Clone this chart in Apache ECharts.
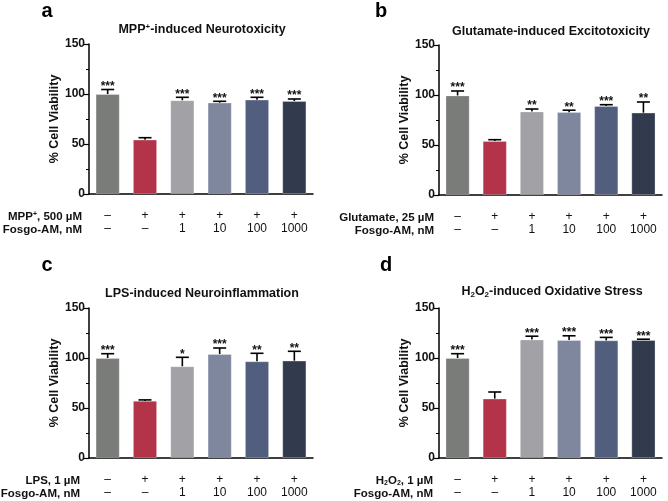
<!DOCTYPE html>
<html><head><meta charset="utf-8">
<script src="https://cdn.jsdelivr.net/npm/echarts@6/dist/echarts.min.js"></script>
<style>html,body{margin:0;padding:0;background:#fff}#c{width:668px;height:501px}</style>
</head><body><div id="c"></div>
<script>
const treatRow = ['–','+','+','+','+','+'];
const doseRow = ['–','–','1','10','100','1000'];
const barColors = ['#7a7c79','#b33348','#a2a2a6','#7f879e','#525e7d','#323a4d'];
const yTicks = [0, 50, 100, 150];

const meansA = [100, 54.3, 93.7, 91.3, 94.3, 93];
const sdA = [4.5, 2, 3, 1.4, 2.4, 2];
const sigA = ['***','','***','***','***','***'];

const meansB = [99.5, 54, 83.5, 82.8, 89, 82.3];
const sdB = [4.5, 1.3, 2.5, 2, 1.3, 10.7];
const sigB = ['***','','**','**','***','**'];

const meansC = [100, 57.1, 91.7, 104, 96.7, 97.3];
const sdC = [4.3, 1, 9, 6, 8, 9.4];
const sigC = ['***','','*','***','**','**'];

const meansD = [100, 59.4, 118.5, 117.9, 117.6, 117.9];
const sdD = [4.3, 6.6, 3.3, 4.3, 3, 0.9];
const sigD = ['***','','***','***','***','***'];

const FONT = '"Liberation Sans", Arial, sans-serif';
const panels = [
  {means: meansA, sd: sdA, sig: sigA, grid: {left:89, top:44, width:224, height:150}, letter:'a', lx:47, ly:11,
   title:'{b|MPP}{sup|+}{b|-induced Neurotoxicity}', tx:202, ty:27, row1:'{n|MPP}{sup|+}{n|, 500 µM}', rx:82},
  {means: meansB, sd: sdB, sig: sigB, grid: {left:439, top:45, width:223, height:150}, letter:'b', lx:381, ly:11,
   title:'{b|Glutamate-induced Excitotoxicity}', tx:551, ty:29, row1:'{n|Glutamate, 25 µM}', rx:434},
  {means: meansC, sd: sdC, sig: sigC, grid: {left:89, top:308, width:224, height:150}, letter:'c', lx:47, ly:265,
   title:'{b|LPS-induced Neuroinflammation}', tx:202, ty:291, row1:'{n|LPS, 1 µM}', rx:80},
  {means: meansD, sd: sdD, sig: sigD, grid: {left:439, top:308, width:223, height:150}, letter:'d', lx:386, ly:265,
   title:'{b|H}{sub|2}{b|O}{sub|2}{b|-induced Oxidative Stress}', tx:552, ty:289, row1:'{n|H}{sub2|2}{n|O}{sub2|2}{n|, 1 µM}', rx:433}
];

const chart = echarts.init(document.getElementById('c'), null, {renderer:'canvas'});
const option = {
  animation:false,
  backgroundColor:'#fff',
  textStyle:{fontFamily:FONT},
  grid: panels.map(p => p.grid),
  xAxis: panels.map((p,i) => ({
    type:'category', gridIndex:i, data: treatRow.map((t,j)=> t + '\n' + doseRow[j]),
    axisLine:{lineStyle:{color:'#000', width:1.5}},
    axisTick:{alignWithLabel:true, length:5, lineStyle:{color:'#000', width:1.2}},
    axisLabel:{color:'#111', fontSize:12, margin:15, lineHeight:13, fontFamily:FONT}
  })),
  yAxis: panels.map((p,i) => ({
    type:'value', gridIndex:i, min:yTicks[0], max:yTicks[yTicks.length-1], interval:50,
    name:'% Cell Viability', nameLocation:'middle', nameGap:28, nameRotate:90,
    nameTextStyle:{fontWeight:'bold', fontSize:12.5, color:'#111', fontFamily:FONT},
    splitLine:{show:false},
    axisLine:{show:true, lineStyle:{color:'#000', width:1.5}},
    axisTick:{show:true, length:5, lineStyle:{color:'#000', width:1.2}},
    minorTick:{show:true, splitNumber:2, length:3, lineStyle:{color:'#000', width:1}},
    axisLabel:{fontWeight:'bold', fontSize:12, color:'#111', margin:4, fontFamily:FONT}
  })),
  title: panels.flatMap(p => [
    {text:p.letter, left:p.lx, top:p.ly, padding:0, textAlign:'center', textVerticalAlign:'middle',
     textStyle:{fontSize:20, fontWeight:'bold', color:'#000', fontFamily:FONT, lineHeight:20}},
    {text:p.title, left:p.tx, top:p.ty - 5, padding:0, textAlign:'center',
     textStyle:{fontFamily:FONT, rich:{
       b:{fontSize:12.5, fontWeight:'bold', color:'#111', fontFamily:FONT, lineHeight:16},
       sup:{fontSize:8, fontWeight:'bold', color:'#111', padding:[0,0,7,0], fontFamily:FONT, lineHeight:16},
       sub:{fontSize:8, fontWeight:'bold', color:'#111', padding:[6,0,0,0], fontFamily:FONT, lineHeight:16}
     }}},
    {text:p.row1, left:p.rx, top:p.grid.top + p.grid.height + 16, padding:0, textAlign:'right',
     textStyle:{fontFamily:FONT, rich:{
       n:{fontSize:11.5, fontWeight:'bold', color:'#111', fontFamily:FONT, lineHeight:14},
       sup:{fontSize:7, fontWeight:'bold', color:'#111', padding:[0,0,6,0], fontFamily:FONT, lineHeight:14},
       sub2:{fontSize:7, fontWeight:'bold', color:'#111', padding:[5,0,0,0], fontFamily:FONT, lineHeight:14}
     }}},
    {text:'Fosgo-AM, nM', left:p.rx, top:p.grid.top + p.grid.height + 29, padding:0, textAlign:'right',
     textStyle:{fontSize:11.5, fontWeight:'bold', color:'#111', fontFamily:FONT, lineHeight:14}}
  ]),
  series: panels.flatMap((p,i) => [
    {type:'bar', xAxisIndex:i, yAxisIndex:i, barWidth:24,
     data: p.means.map((v,j)=>({value:v, itemStyle:{color:barColors[j], borderColor:'rgba(255,255,255,0.35)', borderWidth:0.8}}))},
    {type:'custom', xAxisIndex:i, yAxisIndex:i, z:5,
     data: p.means.map((v,j)=>[j, v, v + p.sd[j]]),
     renderItem: function(params, api){
       const j = api.value(0);
       const base = api.coord([j, api.value(1)]);
       const top = api.coord([j, api.value(2)]);
       const s = p.sig[j];
       const children = [
         {type:'line', shape:{x1:base[0], y1:base[1], x2:top[0], y2:top[1]}, style:{stroke:'#000', lineWidth:1.6}},
         {type:'line', shape:{x1:top[0]-6.5, y1:top[1], x2:top[0]+6.5, y2:top[1]}, style:{stroke:'#000', lineWidth:1.6}}
       ];
       if (s) children.push({type:'text', x:top[0], y:top[1]+3, style:{text:s, textAlign:'center', textVerticalAlign:'bottom', font:'bold 12px ' + FONT, fill:'#111'}});
       return {type:'group', children:children};
     }}
  ])
};
chart.setOption(option);
</script></body></html>
